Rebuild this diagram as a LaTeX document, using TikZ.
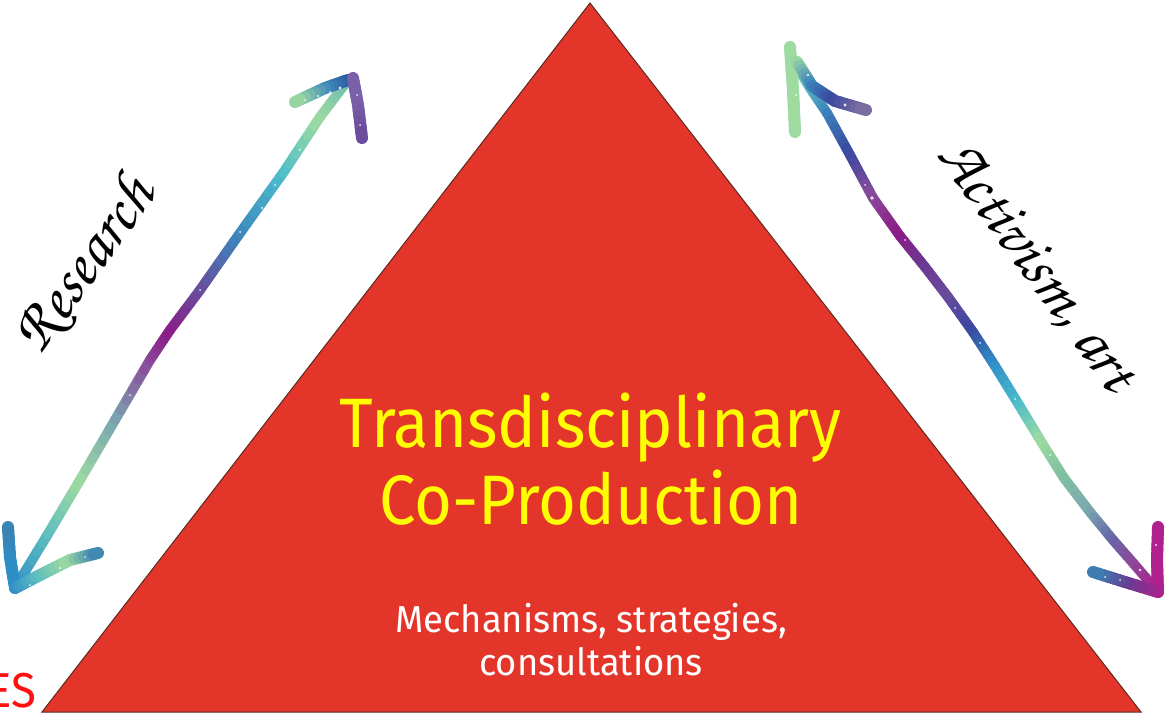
\documentclass[tikz,border=0pt]{standalone}
\usepackage[T1]{fontenc}
\usepackage{fontspec}
\usetikzlibrary{calc}
\newfontfamily\dinfont[FakeStretch=0.93]{Fira Sans}
\newfontfamily\dinsmall[FakeStretch=0.97]{Fira Sans}
\newcommand\callifont{\fontencoding{T1}\fontfamily{pzc}\fontseries{mb}\fontshape{it}\selectfont}
\definecolor{tri}{HTML}{E4352A}
\definecolor{triline}{HTML}{5A2A20}
\definecolor{ylw}{HTML}{FFFF00}
\definecolor{esred}{HTML}{FF1010}
\definecolor{gBlue}{HTML}{2E8EC6}
\definecolor{gTeal}{HTML}{5CBCC0}
\definecolor{gLgreen}{HTML}{9EDBA0}
\definecolor{gGrey}{HTML}{7AA8B0}
\definecolor{gPurp}{HTML}{8A4A9A}
\definecolor{gMag}{HTML}{8C1A86}
\definecolor{gPurp2}{HTML}{6A4A9C}
\definecolor{gBlue2}{HTML}{3D86BC}
\definecolor{gCyan}{HTML}{4CBCCC}
\definecolor{gTeal2}{HTML}{70C0B0}
\definecolor{gDblue}{HTML}{28509A}
\definecolor{gPurpL}{HTML}{7A60A8}
\definecolor{gBlue3}{HTML}{3A82B4}
\definecolor{gIndigo}{HTML}{3A48A0}
\definecolor{gPurp3}{HTML}{6A3A92}
\definecolor{gGreen2}{HTML}{80C0A0}
\definecolor{gPurpG}{HTML}{6868A8}
\definecolor{gMag2}{HTML}{B0208E}
\definecolor{gPgrey}{HTML}{8070A0}
\newcommand\gpath[2]{%
  \gdef\gfirst{1}%
  \foreach \x/\y/\c in {#2}{%
    \ifnum\gfirst=0
      \foreach \i in {0,...,5}{%
        \pgfmathsetmacro\ga{\i/6}%
        \pgfmathsetmacro\gb{(\i+1)/6}%
        \pgfmathsetmacro\gmx{100-100*(\i+0.5)/6}%
        \draw[line width=#1, line cap=round, color=\gpc!\gmx!\c] ($(\gpx,\gpy)!\ga!(\x,\y)$) -- ($(\gpx,\gpy)!\gb!(\x,\y)$);
      }%
    \fi
    \xdef\gpx{\x}\xdef\gpy{\y}\xdef\gpc{\c}\gdef\gfirst{0}%
  }}
\tikzset{
  maintext/.style={font=\dinfont\fontsize{70}{80}\selectfont, text=ylw, anchor=base, inner sep=0},
  subtext/.style={font=\dinsmall\fontsize{37.5}{44}\selectfont, text=white, anchor=base, inner sep=0},
  calli/.style={font=\callifont\fontsize{64}{70}\selectfont, text=black, inner sep=0},
  spark/.style={fill=white, opacity=0.85}
}
\begin{document}
\begin{tikzpicture}[x=1pt,y=-1pt]
\clip (0,0) rectangle (1169,714);
\fill[white] (0,0) rectangle (1169,714);
% triangle
\coordinate (apex) at (590,3);
\coordinate (bl) at (42,712);
\coordinate (br) at (1141,712);
\draw[fill=tri, draw=triline, line width=1] (apex) -- (bl) -- (br) -- cycle;
% left arrow (Research)
\gpath{10}{15/588/gBlue, 48/534/gTeal, 80/480/gLgreen, 115/420/gGrey, 150/360/gPurp, 170/330/gMag, 200/290/gPurp2, 240/233/gBlue2, 283/173/gCyan, 320/117/gLgreen, 348/80/gTeal2}
\gpath{12}{348/80/gDblue, 325/88/gBlue2, 295/102/gLgreen}
\gpath{12}{353/78/gPurpL, 358/105/gPurpL, 362/138/gPurp2}
\gpath{12}{15/588/gBlue, 10/557/gBlue, 8/527/gBlue3}
\gpath{12}{15/588/gBlue, 40/575/gTeal, 70/560/gLgreen, 98/553/gBlue3}
% right arrow (Activism, art)
\gpath{10}{792/58/gLgreen, 810/88/gTeal, 827/113/gBlue2, 850/155/gIndigo, 873/198/gPurp, 900/236/gMag, 925/267/gPurp3, 948/297/gPurp2, 973/332/gIndigo, 995/366/gBlue, 1019/405/gCyan, 1042/443/gLgreen, 1064/478/gGreen2, 1090/512/gGrey, 1113/540/gPurpG, 1134/564/gPurp, 1158/592/gMag2}
\gpath{12}{790/47/gLgreen, 793/90/gLgreen, 795/132/gLgreen}
\gpath{12}{797/62/gLgreen, 812/86/gBlue2, 835/101/gIndigo, 866/110/gPgrey}
\gpath{12}{1158/592/gMag2, 1157/560/gMag2, 1158/527/gMag2}
\gpath{12}{1158/592/gMag2, 1125/582/gPurp3, 1093/572/gBlue3}
% sparkles
\foreach \sx/\sy/\sr in {20/560/1.2, 30/585/1, 60/568/1.1, 85/557/1, 340/88/1.6, 330/92/1, 318/96/1.1, 305/100/1, 357/95/1, 360/125/1, 262/208/1.1, 240/232/1, 200/290/1, 130/395/1, 300/150/1.2, 275/185/1, 808/75/1.4, 796/95/1, 845/105/1.6, 872/198/1.8, 905/240/1, 955/308/1, 1015/399/1, 1050/455/1, 1140/570/1.4, 1156/545/1.2, 1120/580/1, 1105/577/1, 980/343/1, 865/185/1}
  {\fill[spark] (\sx,\sy) circle (\sr);}
% texts
\node[maintext] (t1) at (590.5,447) {Transdisciplinary};
\node[maintext] (t2) at (591,524) {Co-Production};
\node[subtext] (s1) at (591,632) {Mechanisms, strategies,};
\node[subtext] (s2) at (591,675) {consultations};
\node[font=\dinfont\fontsize{49}{55}\selectfont, text=esred, anchor=base east, inner sep=0] (es) at (36,707) {ES};
\node[calli, rotate=54] (res) at (85,265) {Research};
\node[calli, rotate=-54] (act) at (1036,266) {Activism, art};
\end{tikzpicture}
\end{document}
